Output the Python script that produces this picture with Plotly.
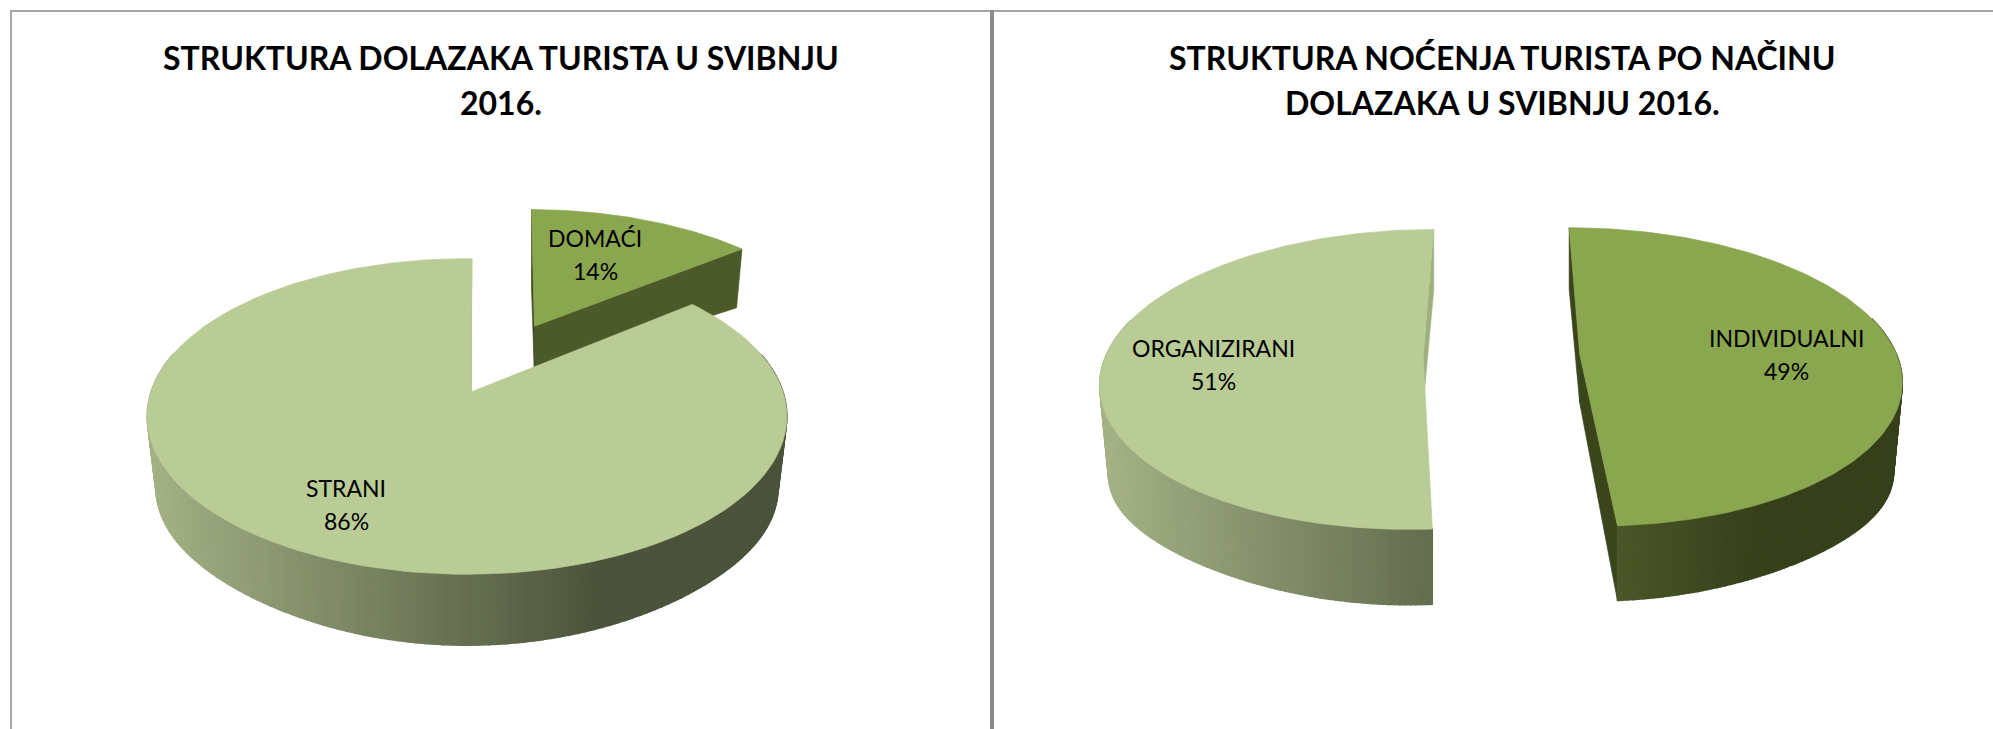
import numpy as np
import plotly.graph_objects as go

# ---- data ----
arrival_labels = ["DOMAĆI", "STRANI"]
arrival_values = [14, 86]
arrival_explode = [0.503, 0.0]
arrival_title = ["STRUKTURA DOLAZAKA TURISTA U SVIBNJU", "2016."]

night_labels = ["INDIVIDUALNI", "ORGANIZIRANI"]
night_values = [49, 51]
night_explode = [0.247, 0.247]
night_title = ["STRUKTURA NOĆENJA TURISTA PO NAČINU", "DOLAZAKA U SVIBNJU 2016."]

# ---- style ----
LIGHT, MID = "#B9CC95", "#8AA64F"
FONT = "Lato"
W, H = 1993, 729
K = 0.155


def hex2rgb(c):
    return np.array([int(c[i:i + 2], 16) for i in (1, 3, 5)], float)


def ramp(x, x0, c0, x1, c1):
    t = min(1.0, max(0.0, (x - x0) / (x1 - x0)))
    v = hex2rgb(c0) * (1 - t) + hex2rgb(c1) * t
    return "rgb(%d,%d,%d)" % tuple(v)


class Pie3D:
    def __init__(self, cx, cy, a, b, rot=0.0, depth=0.0):
        self.cx, self.cy, self.a, self.b = cx, cy, a, b
        self.rot, self.depth = rot, depth

    def top(self, X, Y):
        w = 1 + K * Y
        return self.cx + self.a * X / w, self.cy - self.b * Y / w

    def bottom(self, X, Y, lx):
        x, y = self.top(X, Y)
        d = self.depth + 44 - 7 * Y + 21 * Y ** 2 + 26 * X ** 2 - 25 * X ** 2 * Y ** 2
        return x - 9 * np.sign(lx) * lx ** 2, y + d


fig = go.Figure()


def poly(xs, ys, color, lw=0.7):
    fig.add_trace(go.Scatter(x=list(xs), y=list(ys), mode="lines", fill="toself",
                             fillcolor=color, line=dict(color=color, width=lw),
                             hoverinfo="skip", showlegend=False))


def draw_slice(pie, start_pct, pct, explode, top_color, rim_ramp, wall_a, wall_b,
               apex_dx=0.0, n=220):
    a0 = np.radians(start_pct * 3.6 + pie.rot)
    a1 = np.radians((start_pct + pct) * 3.6 + pie.rot)
    mid = (a0 + a1) / 2
    ox, oy = explode * np.sin(mid), explode * np.cos(mid)

    def wall(ang, color):
        if color is None:
            return
        lx, ly = np.sin(ang), np.cos(ang)
        tx0, ty0 = pie.top(ox, oy)
        tx1, ty1 = pie.top(ox + lx, oy + ly)
        bx1, by1 = pie.bottom(ox + lx, oy + ly, lx)
        bx0, by0 = pie.bottom(ox, oy, 0.0)
        poly([tx0 + apex_dx, tx1, bx1, bx0 + apex_dx, tx0 + apex_dx], [ty0, ty1, by1, by0, ty0], color)

    wall(a1, wall_b)
    wall(a0, wall_a)

    if rim_ramp is not None:
        th = np.linspace(a0, a1, n + 1)
        for t0, t1 in zip(th[:-1], th[1:]):
            if np.cos((t0 + t1) / 2) > 0.25:
                continue
            l0, l1 = np.sin(t0), np.sin(t1)
            m0, m1 = np.cos(t0), np.cos(t1)
            p0 = pie.top(ox + l0, oy + m0)
            p1 = pie.top(ox + l1, oy + m1)
            q1 = pie.bottom(ox + l1, oy + m1, l1)
            q0 = pie.bottom(ox + l0, oy + m0, l0)
            poly([p0[0], p1[0], q1[0], q0[0], p0[0]], [p0[1], p1[1], q1[1], q0[1], p0[1]],
                 ramp((p0[0] + p1[0]) / 2, *rim_ramp), lw=1.4)

    th = np.linspace(a0, a1, 160)
    px, py = pie.top(ox + np.sin(th), oy + np.cos(th))
    ax, ay = pie.top(ox, oy)
    ax += apex_dx
    poly(np.r_[ax, px, ax], np.r_[ay, py, ay], top_color)


left_big = Pie3D(467.0, 392.0, 316, 154, rot=1.0, depth=-1.0)
left_cut = Pie3D(473.0, 391.0, 316, 153, rot=0.5, depth=1.0)
right = Pie3D(1501.5, 355.0, 317, 146, depth=3.0)

draw_slice(left_cut, 0, arrival_values[0], arrival_explode[0], MID, None, "#3D4A20", "#4C5A2A",
           apex_dx=-3.0)
draw_slice(left_big, arrival_values[0], arrival_values[1], arrival_explode[1], LIGHT,
           (147, "#A4B285", 600, "#4B533B"), None, "#9EB07E", apex_dx=4.0)
draw_slice(right, 0, night_values[0], night_explode[0], MID,
           (1618, "#4A5728", 1760, "#36401B"), "#3A451C", "#3A451C")
draw_slice(right, night_values[0], night_values[1], night_explode[1], LIGHT,
           (1105, "#A4B285", 1558, "#4B533B"), None, "#9EB07E")

# data labels
label_spots = [
    (arrival_labels[0], arrival_values[0], 595, 238, 271),
    (arrival_labels[1], arrival_values[1], 346, 488, 521),
    (night_labels[0], night_values[0], 1786, 338, 371),
    (night_labels[1], night_values[1], 1213, 348, 381),
]
annotations = []
for lab, val, x, y0, y1 in label_spots:
    for txt, yy in ((lab, y0), (f"{val}%", y1)):
        annotations.append(dict(x=x, y=yy, text=txt, showarrow=False, xref="x", yref="y",
                                font=dict(family=FONT, size=23, color="#000000")))

# titles
for lines, x in ((arrival_title, 501), (night_title, 1502)):
    for txt, yy in zip(lines, (57, 102)):
        annotations.append(dict(x=x, y=yy, text=f"<b>{txt}</b>", showarrow=False,
                                xref="x", yref="y",
                                font=dict(family=FONT, size=32, color="#000000")))

frame = "#A6A6A6"
shapes = [
    dict(type="line", x0=11, x1=11, y0=10, y1=729, line=dict(color=frame, width=2), layer="below"),
    dict(type="line", x0=10, x1=1993, y0=11, y1=11, line=dict(color=frame, width=2), layer="below"),
    dict(type="line", x0=992, x1=992, y0=10, y1=729, line=dict(color="#8C8C8C", width=4), layer="below"),
]

fig.update_layout(
    width=W, height=H, autosize=False,
    margin=dict(l=0, r=0, t=0, b=0),
    paper_bgcolor="#FFFFFF", plot_bgcolor="#FFFFFF",
    showlegend=False,
    xaxis=dict(range=[0, W], visible=False, fixedrange=True),
    yaxis=dict(range=[H, 0], visible=False, fixedrange=True),
    annotations=annotations, shapes=shapes,
)
fig.write_html("out.html", config=dict(displayModeBar=False),
               post_script="document.body.style.margin='0';document.documentElement.style.overflow='hidden';")
